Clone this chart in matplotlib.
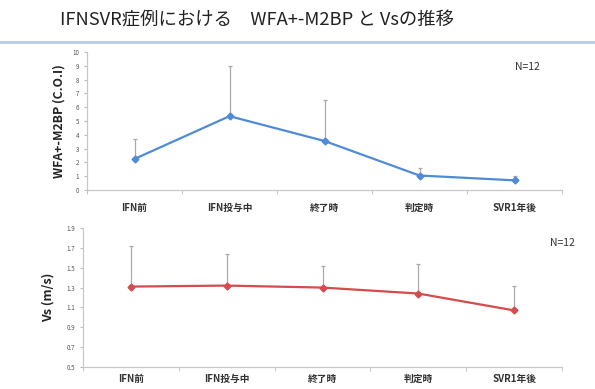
import numpy as np
import matplotlib
matplotlib.use("Agg")
import matplotlib.pyplot as plt

plt.rcParams['font.family'] = ['Noto Sans CJK JP', 'DejaVu Sans']

# data
categories = ["IFN前", "IFN投与中", "終了時", "判定時", "SVR1年後"]
wfa_mean = [2.25, 5.35, 3.55, 1.05, 0.7]
wfa_upper = [3.7, 9.0, 6.5, 1.6, 1.0]
vs_mean = [1.31, 1.32, 1.30, 1.24, 1.07]
vs_upper = [1.72, 1.64, 1.52, 1.54, 1.32]
wfa_ticks = list(range(0, 11))
vs_ticks = [0.5, 0.7, 0.9, 1.1, 1.3, 1.5, 1.7, 1.9]

W, H = 595, 389
fig = plt.figure(figsize=(W / 100, H / 100), dpi=100)
fig.patch.set_facecolor("white")


def px_axes(x0, y0, x1, y1):
    return fig.add_axes([x0 / W, 1 - y1 / H, (x1 - x0) / W, (y1 - y0) / H])


def style_axes(ax, ticks, ylim, fmt, xpad):
    x = np.arange(len(categories))
    ax.set_xlim(-0.5, len(categories) - 0.5)
    ax.set_ylim(*ylim)
    ax.set_yticks(ticks)
    ax.set_yticklabels([fmt.format(t) for t in ticks], fontsize=4.5, color="#555555")
    ax.set_xticks(x)
    ax.set_xticklabels(categories, fontsize=7, fontweight="bold", color="#333333")
    ax.set_xticks(np.arange(-0.5, len(categories)), minor=True)
    ax.tick_params(axis="x", which="major", length=0, pad=xpad)
    ax.tick_params(axis="x", which="minor", length=3, color="#bbbbbb", direction="out")
    ax.tick_params(axis="y", length=2.5, color="#bbbbbb", pad=3)
    for s in ["top", "right"]:
        ax.spines[s].set_visible(False)
    for s in ["left", "bottom"]:
        ax.spines[s].set_color("#c8c8c8")
        ax.spines[s].set_linewidth(0.9)


def draw_series(ax, mean, upper, color):
    x = np.arange(len(categories))
    mean = np.array(mean)
    err = np.array(upper) - mean
    ax.errorbar(x, mean, yerr=[np.zeros_like(err), err], fmt="none",
                ecolor="#aaaaaa", elinewidth=0.9, capsize=1.5, capthick=0.9, zorder=1)
    ax.plot(x, mean, color=color, lw=1.6, marker="D", ms=3.5, zorder=2)


# title and rule
fig.text(60 / W, 1 - 20 / H, "IFNSVR症例における　WFA+-M2BP と Vsの推移",
         fontsize=13.2, color="#222222", va="center", ha="left")
fig.add_artist(plt.Line2D([0, 1], [1 - 42 / H, 1 - 42 / H], color="#b8cde6", lw=2.0))

# WFA+-M2BP
ax1 = px_axes(87, 52, 562, 190)
style_axes(ax1, wfa_ticks, (0, 10), "{:d}", 9)
draw_series(ax1, wfa_mean, wfa_upper, "#4f8bd6")
ax1.set_ylabel("WFA+-M2BP (C.O.I)", fontsize=8.8, fontweight="bold", color="#222222", labelpad=5)
ax1.text(0.9, 0.87, "N=12", transform=ax1.transAxes, fontsize=7.5, color="#333333", ha="left")

# Vs
ax2 = px_axes(83, 228, 562, 367)
style_axes(ax2, vs_ticks, (0.5, 1.9), "{:.1f}", 5)
draw_series(ax2, vs_mean, vs_upper, "#d64b4b")
ax2.set_ylabel("Vs (m/s)", fontsize=9, fontweight="bold", color="#222222", labelpad=9)
ax2.text(0.975, 0.87, "N=12", transform=ax2.transAxes, fontsize=7.5, color="#333333", ha="left")

fig.savefig("out.png", dpi=100)
